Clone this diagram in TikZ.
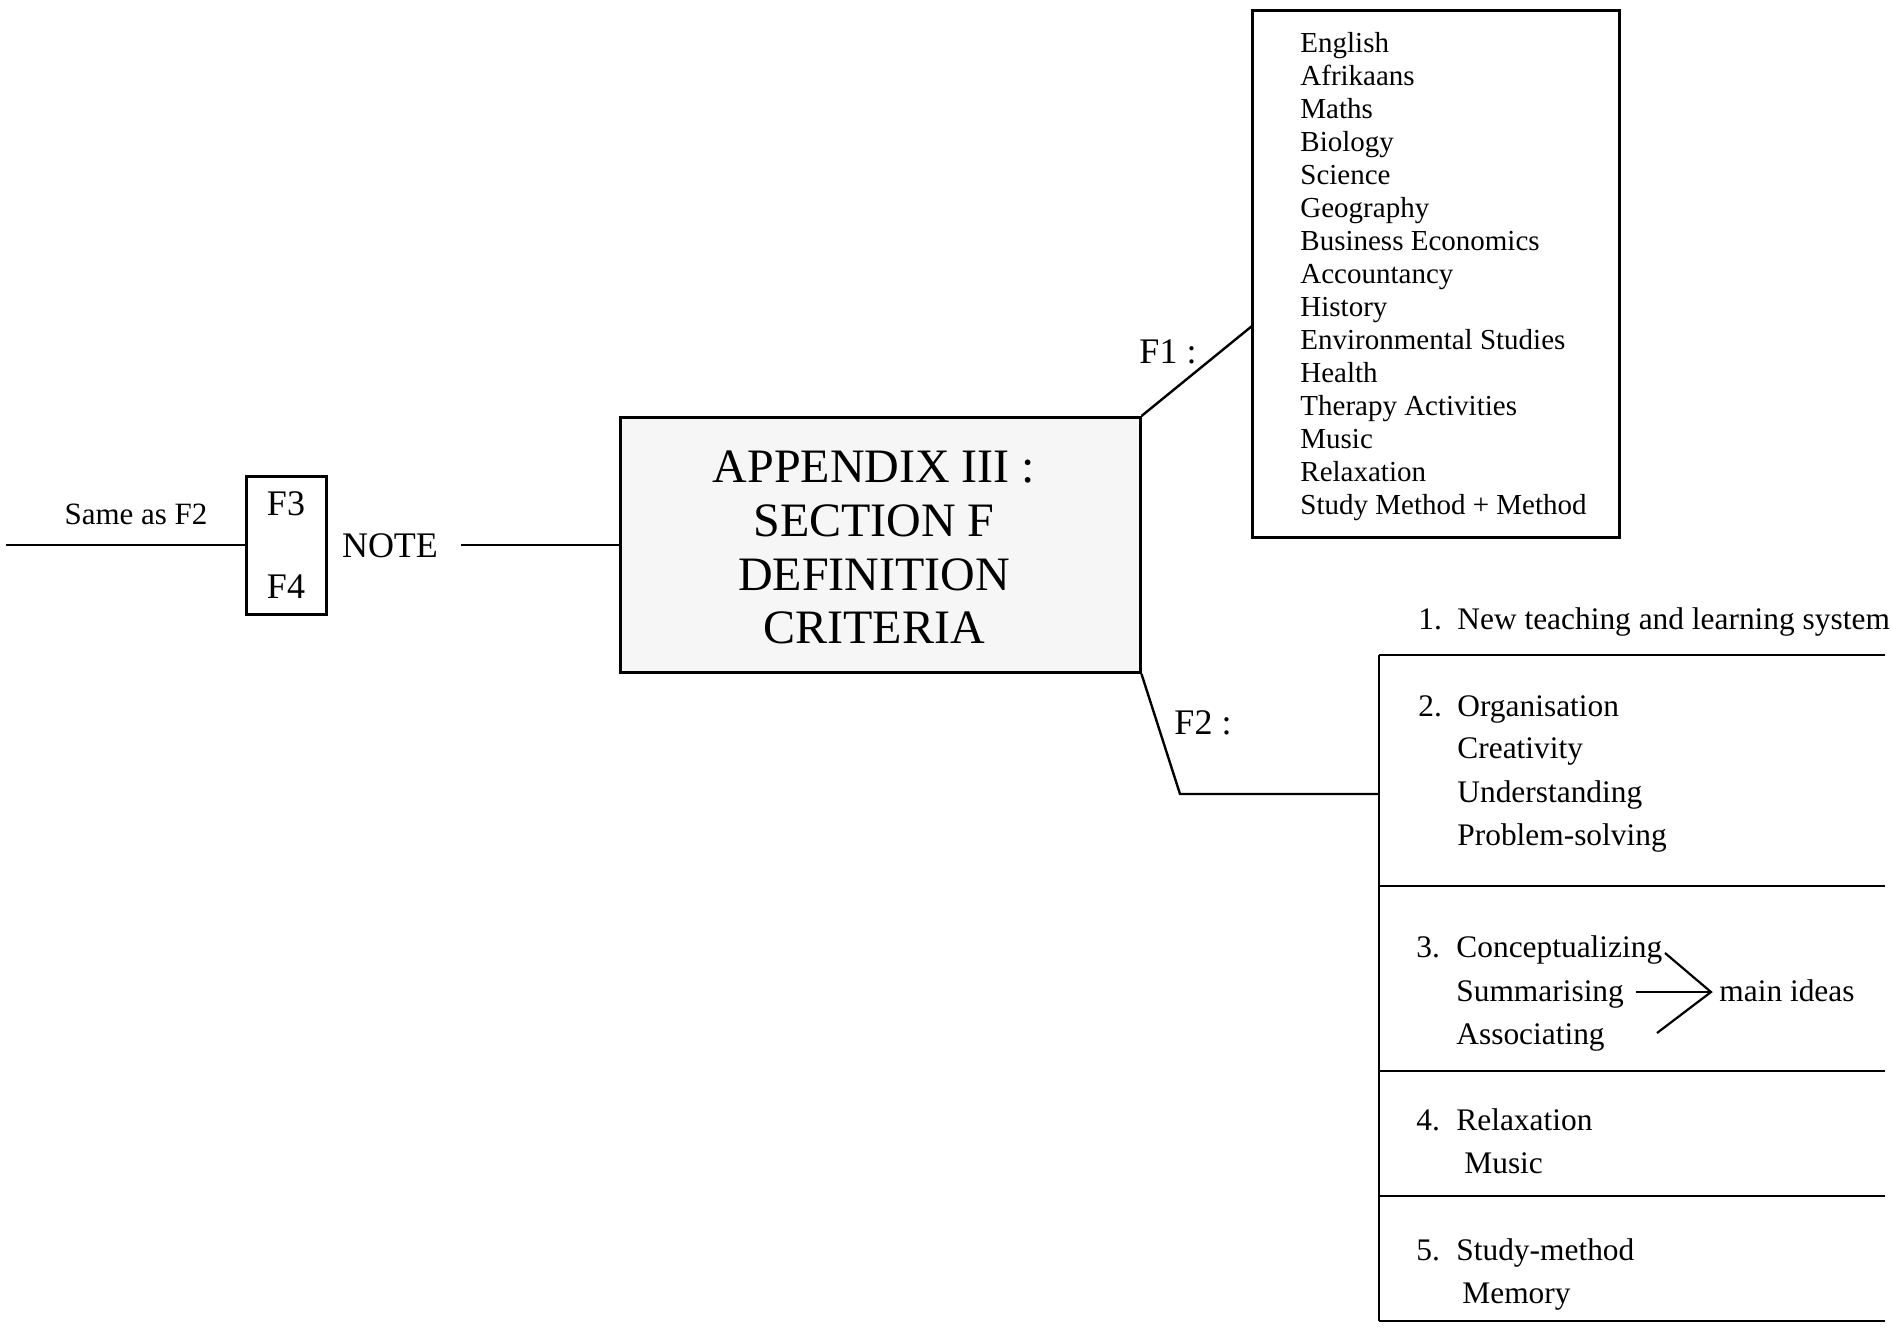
\documentclass[tikz,border=0pt]{standalone}
\usepackage{fontspec}
\setmainfont{Liberation Serif}
\begin{document}
\begin{tikzpicture}[x=0.5pt,y=-0.5pt,
  frame/.style={draw, line width=1.5pt, inner sep=0pt},
  wire/.style={line width=1.2pt},
  title/.style={inner sep=0pt, anchor=base, font=\fontsize{24}{27}\selectfont},
  big/.style={inner sep=0pt, anchor=base, font=\fontsize{18}{20}\selectfont},
  subj/.style={inner sep=0pt, anchor=base west, font=\fontsize{14.5}{16.5}\selectfont},
  item/.style={inner sep=0pt, anchor=base west, font=\fontsize{15.7}{18}\selectfont},
]
% page
\fill[white] (0,0) rectangle (1892,1329);
\useasboundingbox (0,0) rectangle (1892,1329);

% central box
\node[frame, fill=gray!7, minimum width=260pt, minimum height=127.5pt] (main) at (880,545) {};
\node[title] (t1) at (874,482) {APPENDIX III :};
\node[title] (t2) at (874,536) {SECTION F};
\node[title] (t3) at (874,590) {DEFINITION};
\node[title] (t4) at (874,643) {CRITERIA};

% F3 / F4 note on the left
\node[frame, minimum width=40pt, minimum height=69pt] (f34) at (286,545) {};
\node[big] (f3) at (286,515) {F3};
\node[big] (f4) at (286,598) {F4};
\node[big] (note) at (390,557) {NOTE};
\node[inner sep=0pt, anchor=base, font=\fontsize{15.5}{18}\selectfont] (same) at (136,524) {Same as F2};
\coordinate (lend) at (6,545);
\coordinate (nstart) at (461,545);
\draw[wire] (lend) -- (f34.west);
\draw[wire] (nstart) -- (main.west);

% F1: subject list
\node[frame, minimum width=183.5pt, minimum height=263.5pt] (f1) at (1435.5,273.5) {};
\foreach \t [count=\i from 0] in {English,Afrikaans,Maths,Biology,Science,Geography,
  Business Economics,Accountancy,History,Environmental Studies,Health,
  Therapy Activities,Music,Relaxation,Study Method + Method}
  \node[subj] (s\i) at (1300,{52+33*\i}) {\t};
\coordinate (f1in) at (1252,326);
\draw[wire] (main.north east) -- (f1in);
\node[big] (f1lbl) at (1168,363) {F1 :};

% F2: skills table
\coordinate (r0) at (1379,655);
\coordinate (r1) at (1379,886);
\coordinate (r2) at (1379,1071);
\coordinate (r3) at (1379,1196);
\coordinate (r4) at (1379,1321);
\draw[wire] (r0) -- (r4);
\foreach \r in {r0,r1,r2,r3,r4}
  \draw[wire] (\r) -- ++(506,0);
\coordinate (bend) at (1180,794);
\coordinate (f2in) at (1379,794);
\draw[wire] (main.south east) -- (bend) -- (f2in);
\node[big] (f2lbl) at (1203,734) {F2 :};

\node[item] (n1) at (1418,629) {1.};
\node[item] (i1) at (1457,629) {New teaching and learning system};
\node[item] (n2) at (1418,716) {2.};
\node[item] (i2a) at (1457,716) {Organisation};
\node[item] (i2b) at (1457,758) {Creativity};
\node[item] (i2c) at (1457,802) {Understanding};
\node[item] (i2d) at (1457,845) {Problem-solving};
\node[item] (n3) at (1416,957) {3.};
\node[item] (i3a) at (1456,957) {Conceptualizing};
\node[item] (i3b) at (1456,1001) {Summarising};
\node[item] (i3c) at (1456,1044) {Associating};
\node[item] (mi) at (1719,1001) {main ideas};
\node[item] (n4) at (1416,1130) {4.};
\node[item] (i4a) at (1456,1130) {Relaxation};
\node[item] (i4b) at (1464,1173) {Music};
\node[item] (n5) at (1416,1260) {5.};
\node[item] (i5a) at (1456,1260) {Study-method};
\node[item] (i5b) at (1462,1303) {Memory};

% converging lines to "main ideas"
\coordinate (tip) at (1711,992);
\coordinate (ua) at (1665,953);
\coordinate (ma) at (1636,992);
\coordinate (la) at (1657,1033);
\draw[line width=1.1pt] (ua) -- (tip) -- (la);
\draw[line width=1.1pt] (ma) -- (tip);
\end{tikzpicture}
\end{document}
